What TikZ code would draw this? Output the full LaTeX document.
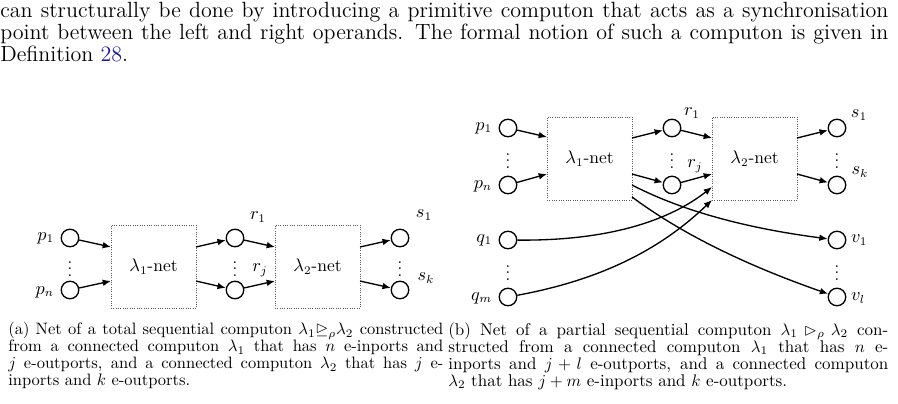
\documentclass[tikz,border=0pt]{standalone}
\usepackage{amssymb}
\usepackage{xcolor}
\usetikzlibrary{arrows.meta}
\definecolor{linkblue}{rgb}{0.1,0.1,0.6}
\begin{document}
\begin{tikzpicture}[x=0.6pt,y=-0.6pt,
  port/.style={circle,draw,thick,minimum size=10.5pt,inner sep=0pt},
  netbox/.style={draw,densely dotted,gray!70!black,minimum width=51pt,minimum height=50pt,inner sep=0pt,text=black,font=\fontsize{10.5}{12}\selectfont},
  arr/.style={thick,-{Latex[length=5pt,width=4pt]}},
  lbl/.style={inner sep=1pt,font=\fontsize{10.5}{12}\selectfont},
  dts/.style={inner sep=0pt}]
\useasboundingbox (0,0) rectangle (898,403);
\node[anchor=north west,inner sep=0pt,text width=532.8pt,align=justify,font=\fontsize{13.2}{13.2}\selectfont] (body) at (0,2)
{can structurally be done by introducing a primitive computon that acts as a synchronisation\linebreak point between the left and right operands. The formal notion of such a computon is given in\linebreak Definition~\textcolor{linkblue}{28}.};
% ---------- (a)
\node[port] (ap1) at (70,238) {};
\node[port] (apn) at (70,290) {};
\node[netbox] (ab1) at (153.5,266.5) {$\lambda_1$-net};
\node[port] (ar1) at (235,238) {};
\node[port] (arj) at (235,290) {};
\node[netbox] (ab2) at (317.5,266.5) {$\lambda_2$-net};
\node[port] (as1) at (400,238) {};
\node[port] (ask) at (400,290) {};
\node[lbl,anchor=east] (lap1) at (56,238) {$p_1$};
\node[lbl,anchor=east] (lapn) at (56,292) {$p_n$};
\node[lbl] (lar1) at (258,217) {$r_1$};
\node[lbl] (larj) at (260,270) {$r_j$};
\node[lbl] (las1) at (424,215) {$s_1$};
\node[lbl] (lask) at (426,278) {$s_k$};
\node[dts] (ad1) at (70,264) {$\vdots$};
\node[dts] (ad2) at (235,264) {$\vdots$};
\node[dts] (ad3) at (400,264) {$\vdots$};
\coordinate (aa1) at (111,247); \coordinate (aa2) at (111,281);
\coordinate (ab1o1) at (196,247); \coordinate (ab1o2) at (196,281);
\coordinate (ab2i1) at (275,247); \coordinate (ab2i2) at (275,281);
\coordinate (ab2o1) at (360,247); \coordinate (ab2o2) at (360,281);
\draw[arr] (ap1) -- (aa1);
\draw[arr] (apn) -- (aa2);
\draw[arr] (ab1o1) -- (ar1);
\draw[arr] (ab1o2) -- (arj);
\draw[arr] (ar1) -- (ab2i1);
\draw[arr] (arj) -- (ab2i2);
\draw[arr] (ab2o1) -- (as1);
\draw[arr] (ab2o2) -- (ask);
% ---------- (b)
\node[port] (bp1) at (508,128) {};
\node[port] (bpn) at (508,185) {};
\node[netbox] (bb1) at (589.5,158.5) {$\lambda_1$-net};
\node[port] (br1) at (672,128) {};
\node[port] (brj) at (672,185) {};
\node[netbox] (bb2) at (754.5,158.5) {$\lambda_2$-net};
\node[port] (bs1) at (837,128) {};
\node[port] (bsk) at (837,185) {};
\node[port] (bq1) at (508,240) {};
\node[port] (bqm) at (508,297) {};
\node[port] (bv1) at (837,240) {};
\node[port] (bvl) at (837,297) {};
\node[lbl,anchor=east] (lbp1) at (494,128) {$p_1$};
\node[lbl,anchor=east] (lbpn) at (494,186) {$p_n$};
\node[lbl,anchor=east] (lbq1) at (494,240) {$q_1$};
\node[lbl,anchor=east] (lbqm) at (494,298) {$q_m$};
\node[lbl] (lbr1) at (692,113) {$r_1$};
\node[lbl] (lbrj) at (695,166) {$r_j$};
\node[lbl] (lbs1) at (859,115) {$s_1$};
\node[lbl] (lbsk) at (860,172) {$s_k$};
\node[lbl,anchor=west] (lbv1) at (849,240) {$v_1$};
\node[lbl,anchor=west] (lbvl) at (849,298) {$v_l$};
\node[dts] (bd1) at (508,156) {$\vdots$};
\node[dts] (bd2) at (672,156) {$\vdots$};
\node[dts] (bd3) at (837,156) {$\vdots$};
\node[dts] (bd4) at (508,268) {$\vdots$};
\node[dts] (bd5) at (837,268) {$\vdots$};
\coordinate (ba1) at (547,137); \coordinate (ba2) at (547,174);
\coordinate (bo1) at (632,138); \coordinate (bo2) at (632,174);
\coordinate (bo3) at (632,185); \coordinate (bo4) at (632,197);
\coordinate (bi1) at (712,138); \coordinate (bi2) at (712,174);
\coordinate (bi3) at (712,187); \coordinate (bi4) at (712,200);
\coordinate (bc1) at (797,138); \coordinate (bc2) at (797,174);
\draw[arr] (bp1) -- (ba1);
\draw[arr] (bpn) -- (ba2);
\draw[arr] (bo1) -- (br1);
\draw[arr] (bo2) -- (brj);
\draw[arr] (br1) -- (bi1);
\draw[arr] (brj) -- (bi2);
\draw[arr] (bc1) -- (bs1);
\draw[arr] (bc2) -- (bsk);
\draw[arr] (bq1) .. controls (610,241) and (670,220) .. (bi3);
\draw[arr] (bqm) .. controls (600,280) and (660,250) .. (bi4);
\draw[arr] (bo3) .. controls (690,215) and (760,230) .. (bv1);
\draw[arr] (bo4) .. controls (690,240) and (760,270) .. (bvl);
% ---------- captions
\node[anchor=north west,inner sep=0pt,text width=261pt,align=justify,font=\fontsize{9.9}{10.2}\selectfont] (capa) at (8,322)
{(a) Net of a total sequential computon $\lambda_1{\unrhd}_\rho\lambda_2$ constructed\linebreak from a connected computon $\lambda_1$ that has $n$ e-inports and\linebreak $j$ e-outports, and a connected computon $\lambda_2$ that has $j$ e-\linebreak inports and $k$ e-outports.};
\node[anchor=north west,inner sep=0pt,text width=264pt,align=justify,font=\fontsize{10.2}{10.2}\selectfont] (capb) at (448,322)
{(b) Net of a partial sequential computon $\lambda_1 \rhd_\rho \lambda_2$ con-\linebreak structed from a connected computon $\lambda_1$ that has $n$ e-\linebreak inports and $j+l$ e-outports, and a connected computon\linebreak $\lambda_2$ that has $j+m$ e-inports and $k$ e-outports.};
\end{tikzpicture}
\end{document}
